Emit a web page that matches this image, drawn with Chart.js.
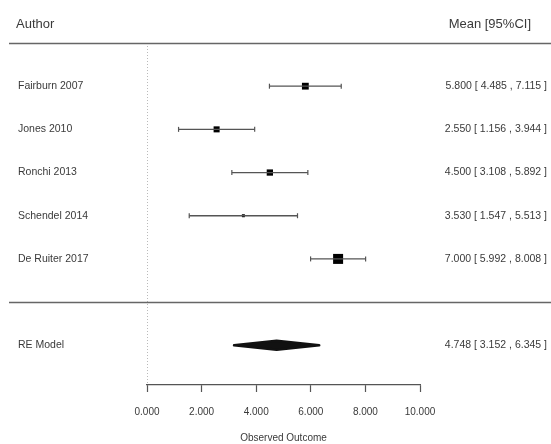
<!DOCTYPE html>
<html>
<head>
<meta charset="utf-8">
<script src="https://cdn.jsdelivr.net/npm/chart.js@4/dist/chart.umd.min.js"></script>
<style>
  html, body { margin: 0; padding: 0; background: #fff; }
  #wrap { width: 551px; height: 444px; }
</style>
</head>
<body>
<div id="wrap"><canvas id="forest"></canvas></div>
<script>
// studies, top to bottom
var authors = ["Fairburn 2007", "Jones 2010", "Ronchi 2013", "Schendel 2014", "De Ruiter 2017"];
var means   = [5.800, 2.550, 4.500, 3.530, 7.000];
var lower   = [4.485, 1.156, 3.108, 1.547, 5.992];
var upper   = [7.115, 3.944, 5.892, 5.513, 8.008];
var weights = [20.5, 19.5, 19.8, 15.6, 24.6];

// pooled estimate
var reLabel = "RE Model";
var reMean  = 4.748;
var reLower = 3.152;
var reUpper = 6.345;

var xTicks = [0, 2, 4, 6, 8, 10];

var FONT = "'Liberation Sans', Arial, sans-serif";
var TXT = "#3a3a3a";

// rows: first study at 5, last at 1, separator at 0, pooled at -1
function rowOf(i) { return authors.length - i; }
var RE_ROW = -1, TOP_ROW = 6, BOTTOM_ROW = -1.92;

function fmt(v) { return v.toFixed(3); }
function ciText(m, lo, hi) { return fmt(m) + " [ " + fmt(lo) + " , " + fmt(hi) + " ]"; }

var wMin = Math.min.apply(null, weights), wMax = Math.max.apply(null, weights);
function boxRadius(w) {
  var side = 3 + 7 * (w - wMin) / (wMax - wMin);
  return side / Math.SQRT2;
}

var datasets = [];

// dotted reference line at zero
datasets.push({
  type: 'line',
  data: [{x: 0, y: TOP_ROW}, {x: 0, y: BOTTOM_ROW}],
  borderColor: '#777',
  borderWidth: 1,
  borderDash: [1, 2],
  pointRadius: 0
});

// confidence interval whiskers with end caps
authors.forEach(function(a, i) {
  datasets.push({
    type: 'line',
    data: [{x: lower[i], y: rowOf(i)}, {x: upper[i], y: rowOf(i)}],
    borderColor: '#555',
    borderWidth: 1.3,
    pointStyle: 'line',
    rotation: 90,
    pointRadius: 2.5,
    pointBorderColor: '#555',
    pointBorderWidth: 1.2
  });
});

// study estimates, square size by weight
datasets.push({
  type: 'scatter',
  data: means.map(function(m, i) { return {x: m, y: rowOf(i)}; }),
  pointStyle: 'rect',
  pointRadius: weights.map(boxRadius),
  backgroundColor: '#000',
  borderColor: '#000',
  borderWidth: 0
});

var forestText = {
  id: 'forestText',
  afterDatasetsDraw: function(chart) {
    var ctx = chart.ctx, xs = chart.scales.x, ys = chart.scales.y;
    var W = chart.width;
    ctx.save();

    // header rule and separator above the pooled row
    ctx.strokeStyle = '#666';
    ctx.lineWidth = 1.3;
    [TOP_ROW, 0].forEach(function(r) {
      var py = Math.round(ys.getPixelForValue(r)) + 0.5;
      ctx.beginPath();
      ctx.moveTo(9, py);
      ctx.lineTo(W, py);
      ctx.stroke();
    });

    // pooled diamond
    var yc = ys.getPixelForValue(RE_ROW);
    ctx.fillStyle = '#111';
    ctx.strokeStyle = '#111';
    ctx.lineWidth = 2.5;
    ctx.lineJoin = 'round';
    ctx.beginPath();
    ctx.moveTo(xs.getPixelForValue(reLower) + 1, yc);
    ctx.lineTo(xs.getPixelForValue(reMean), yc - 4.5);
    ctx.lineTo(xs.getPixelForValue(reUpper) - 1, yc);
    ctx.lineTo(xs.getPixelForValue(reMean), yc + 4.5);
    ctx.closePath();
    ctx.fill();
    ctx.stroke();

    // headers
    ctx.fillStyle = TXT;
    ctx.textBaseline = 'middle';
    ctx.font = "13px " + FONT;
    ctx.textAlign = 'left';
    ctx.fillText("Author", 16, 24);
    ctx.textAlign = 'right';
    ctx.fillText("Mean [95%CI]", 531, 24);

    // row labels and estimates
    ctx.font = "10.5px " + FONT;
    authors.forEach(function(a, i) {
      var py = ys.getPixelForValue(rowOf(i));
      ctx.textAlign = 'left';
      ctx.fillText(a, 18, py);
      ctx.textAlign = 'right';
      ctx.fillText(ciText(means[i], lower[i], upper[i]), 547, py);
    });
    ctx.textAlign = 'left';
    ctx.fillText(reLabel, 18, yc);
    ctx.textAlign = 'right';
    ctx.fillText(ciText(reMean, reLower, reUpper), 547, yc);

    ctx.restore();
  }
};

new Chart(document.getElementById("forest"), {
  type: 'scatter',
  data: { datasets: datasets },
  options: {
    responsive: true,
    maintainAspectRatio: false,
    animation: false,
    layout: { padding: { left: 147, right: 131, top: 43, bottom: 0 } },
    plugins: {
      legend: { display: false },
      tooltip: { enabled: false }
    },
    scales: {
      x: {
        type: 'linear',
        min: 0,
        max: 10,
        afterBuildTicks: function(scale) {
          scale.ticks = xTicks.map(function(v) { return {value: v}; });
        },
        border: { display: true, color: '#555', width: 1.2 },
        grid: { drawOnChartArea: false, drawTicks: true, tickLength: 7, color: '#555', tickWidth: 1.2 },
        ticks: {
          padding: 14,
          color: TXT,
          font: { family: FONT, size: 10 },
          maxRotation: 0,
          callback: function(v) { return fmt(v); }
        },
        title: {
          display: true,
          text: "Observed Outcome",
          color: TXT,
          font: { family: FONT, size: 10 },
          padding: { top: 0, bottom: 0 }
        }
      },
      y: {
        type: 'linear',
        display: false,
        min: BOTTOM_ROW,
        max: TOP_ROW
      }
    }
  },
  plugins: [forestText]
});
</script>
</body>
</html>
